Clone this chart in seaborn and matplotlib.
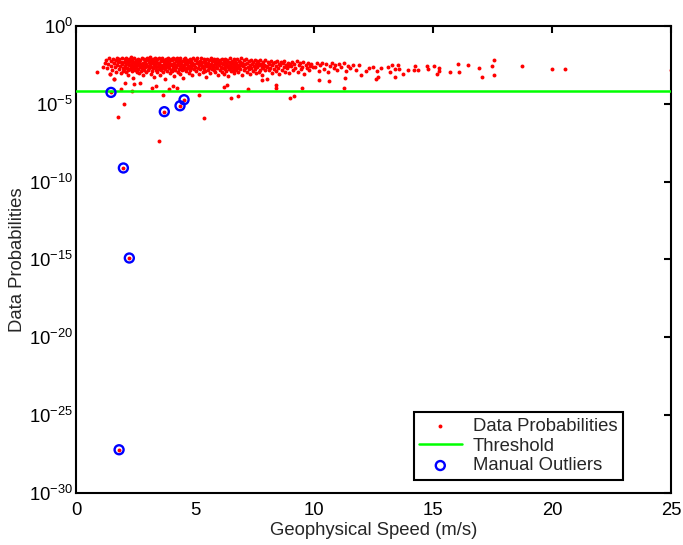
import numpy as np
import matplotlib
matplotlib.use("Agg")
import matplotlib.pyplot as plt
import seaborn as sns
from matplotlib.ticker import NullLocator

# =====================================================
# DATA  (speed in m/s, depth = -log10(probability))
# =====================================================

band_speed = [
    0.90, 1.15, 1.22, 1.28, 1.31, 1.36, 1.40, 1.43, 1.45, 1.49,
    1.52, 1.55, 1.58, 1.61, 1.63, 1.66, 1.69, 1.71, 1.74, 1.77,
    1.79, 1.82, 1.85, 1.87, 1.90, 1.92, 1.95, 1.97, 1.99, 1.60,
    2.01, 2.03, 2.05, 2.06, 2.08, 2.10, 2.12, 2.13, 2.15, 2.17,
    2.19, 2.20, 2.22, 2.24, 2.26, 2.27, 2.29, 2.31, 2.33, 2.34,
    2.36, 2.38, 2.40, 2.41, 2.43, 2.45, 2.47, 2.48, 2.50, 2.52,
    2.54, 2.55, 2.57, 2.59, 2.61, 2.62, 2.64, 2.66, 2.68, 2.69,
    2.71, 2.73, 2.75, 2.76, 2.78, 2.80, 2.82, 2.83, 2.85, 2.87,
    2.89, 2.90, 2.92, 2.94, 2.96, 2.97, 2.99, 2.34, 2.43, 2.68,
    3.01, 3.03, 3.04, 3.06, 3.08, 3.10, 3.11, 3.13, 3.15, 3.17,
    3.18, 3.20, 3.22, 3.24, 3.25, 3.27, 3.29, 3.31, 3.33, 3.34,
    3.36, 3.38, 3.40, 3.41, 3.43, 3.45, 3.47, 3.48, 3.50, 3.52,
    3.54, 3.56, 3.57, 3.59, 3.61, 3.63, 3.64, 3.66, 3.68, 3.70,
    3.71, 3.73, 3.75, 3.77, 3.78, 3.80, 3.82, 3.84, 3.86, 3.87,
    3.89, 3.91, 3.93, 3.94, 3.96, 3.98, 3.99, 3.22, 3.55, 3.81,
    4.01, 4.02, 4.04, 4.06, 4.08, 4.09, 4.11, 4.13, 4.15, 4.16,
    4.18, 4.20, 4.22, 4.24, 4.25, 4.27, 4.29, 4.31, 4.32, 4.34,
    4.36, 4.38, 4.39, 4.41, 4.43, 4.45, 4.47, 4.48, 4.50, 4.52,
    4.54, 4.55, 4.57, 4.59, 4.61, 4.62, 4.64, 4.66, 4.68, 4.70,
    4.71, 4.73, 4.75, 4.77, 4.78, 4.80, 4.82, 4.84, 4.85, 4.87,
    4.89, 4.91, 4.93, 4.94, 4.96, 4.98, 4.99, 4.28, 4.57, 4.83,
    5.02, 5.04, 5.06, 5.08, 5.10, 5.12, 5.14, 5.16, 5.18, 5.20,
    5.22, 5.24, 5.26, 5.28, 5.30, 5.32, 5.34, 5.36, 5.38, 5.40,
    5.42, 5.44, 5.46, 5.48, 5.50, 5.52, 5.54, 5.56, 5.58, 5.60,
    5.62, 5.64, 5.66, 5.68, 5.70, 5.72, 5.74, 5.76, 5.78, 5.80,
    5.82, 5.84, 5.86, 5.88, 5.90, 5.92, 5.94, 5.96, 5.98, 5.51,
    6.02, 6.04, 6.06, 6.08, 6.10, 6.12, 6.14, 6.16, 6.18, 6.20,
    6.22, 6.24, 6.26, 6.28, 6.30, 6.32, 6.34, 6.36, 6.38, 6.40,
    6.42, 6.44, 6.46, 6.48, 6.50, 6.52, 6.54, 6.56, 6.58, 6.60,
    6.62, 6.64, 6.66, 6.68, 6.70, 6.72, 6.74, 6.76, 6.78, 6.80,
    6.82, 6.84, 6.86, 6.88, 6.90, 6.92, 6.94, 6.96, 6.98, 6.45,
    7.02, 7.05, 7.07, 7.10, 7.12, 7.15, 7.17, 7.20, 7.22, 7.25,
    7.27, 7.30, 7.32, 7.35, 7.37, 7.40, 7.42, 7.45, 7.47, 7.50,
    7.52, 7.55, 7.57, 7.60, 7.62, 7.65, 7.67, 7.70, 7.72, 7.75,
    7.77, 7.80, 7.82, 7.85, 7.87, 7.90, 7.92, 7.95, 7.97, 7.63,
    8.02, 8.05, 8.09, 8.12, 8.15, 8.19, 8.22, 8.25, 8.29, 8.32,
    8.35, 8.39, 8.42, 8.45, 8.49, 8.52, 8.55, 8.59, 8.62, 8.65,
    8.69, 8.72, 8.75, 8.79, 8.82, 8.85, 8.89, 8.92, 8.95, 8.99,
    9.03, 9.08, 9.12, 9.17, 9.22, 9.27, 9.31, 9.36, 9.41, 9.46,
    9.51, 9.55, 9.60, 9.65, 9.70, 9.74, 9.79, 9.84, 9.89, 9.95,
    10.04, 10.12, 10.19, 10.27, 10.35, 10.43, 10.50, 10.58, 10.66, 10.74,
    10.82, 10.90, 10.98, 11.07, 11.15, 11.24, 11.33, 11.42, 11.52, 11.63,
]

band_depth = [
    2.95, 2.61, 2.35, 2.18, 2.72, 2.44, 2.09, 3.10, 2.55, 2.27,
    2.83, 2.12, 2.40, 3.44, 2.66, 2.21, 2.95, 2.50, 2.05, 2.33,
    2.78, 2.15, 2.60, 3.02, 2.29, 2.47, 2.08, 2.70, 2.88, 2.38,
    2.31, 2.74, 2.12, 2.58, 2.96, 2.05, 2.43, 2.67, 2.22, 2.85,
    3.12, 2.37, 2.51, 2.14, 2.79, 2.28, 2.63, 2.01, 2.46, 2.90,
    2.19, 2.55, 3.35, 2.33, 2.70, 2.09, 2.48, 2.82, 2.25, 2.61,
    2.16, 2.99, 2.40, 2.76, 2.11, 2.53, 3.05, 2.29, 2.66, 2.20,
    2.88, 2.44, 2.57, 2.03, 2.72, 2.35, 3.18, 2.50, 2.13, 2.81,
    2.27, 2.64, 2.42, 2.93, 2.18, 2.59, 2.07, 2.75, 2.38, 2.47,
    2.56, 2.10, 2.83, 2.34, 2.68, 2.02, 2.47, 3.09, 2.21, 2.62,
    2.39, 2.91, 2.15, 2.73, 2.30, 2.54, 3.28, 2.06, 2.45, 2.80,
    2.24, 2.66, 2.13, 2.98, 2.41, 2.58, 2.08, 2.77, 2.36, 3.15,
    2.52, 2.19, 2.86, 2.28, 2.69, 2.04, 2.49, 2.94, 2.32, 2.60,
    2.17, 2.75, 3.40, 2.43, 2.11, 2.64, 2.26, 2.89, 2.55, 2.07,
    2.71, 2.38, 3.02, 2.20, 2.50, 2.84, 2.14, 2.33, 2.61, 2.46,
    2.44, 2.87, 2.16, 2.59, 2.03, 2.72, 2.35, 3.21, 2.48, 2.12,
    2.81, 2.27, 2.65, 2.06, 2.53, 2.94, 2.39, 2.18, 2.76, 2.31,
    3.08, 2.57, 2.09, 2.69, 2.42, 2.85, 2.23, 2.62, 3.33, 2.14,
    2.50, 2.78, 2.37, 2.05, 2.67, 2.29, 2.92, 2.45, 2.19, 2.73,
    2.55, 3.00, 2.32, 2.60, 2.10, 2.83, 2.40, 2.25, 2.70, 3.14,
    2.36, 2.52, 2.08, 2.79, 2.47, 2.20, 2.64, 2.96, 2.34, 2.57,
    2.63, 2.17, 2.88, 2.40, 2.09, 2.71, 2.33, 3.11, 2.52, 2.22,
    2.79, 2.45, 2.04, 2.66, 2.30, 2.97, 2.56, 2.13, 2.74, 2.38,
    2.90, 2.26, 2.60, 3.25, 2.11, 2.49, 2.82, 2.35, 2.68, 2.19,
    2.58, 3.04, 2.42, 2.07, 2.77, 2.28, 2.65, 2.50, 2.15, 2.86,
    2.37, 2.99, 2.24, 2.62, 2.46, 2.10, 2.73, 3.18, 2.32, 2.55,
    2.48, 2.83, 2.20, 2.61, 2.36, 2.95, 2.14, 2.70, 2.43, 3.07,
    2.27, 2.58, 2.10, 2.77, 2.39, 2.88, 2.53, 2.18, 2.66, 3.20,
    2.31, 2.74, 2.05, 2.51, 2.92, 2.35, 2.64, 2.23, 2.81, 2.46,
    3.01, 2.15, 2.57, 2.72, 2.29, 2.86, 2.41, 2.12, 2.68, 2.54,
    2.97, 2.25, 2.60, 2.33, 2.79, 2.08, 2.49, 3.12, 2.38, 2.67,
    2.55, 2.21, 2.84, 2.42, 2.69, 2.13, 2.97, 2.36, 2.62, 2.28,
    2.78, 2.50, 3.09, 2.19, 2.71, 2.44, 2.88, 2.32, 2.59, 2.16,
    2.75, 2.47, 3.03, 2.25, 2.66, 2.39, 2.93, 2.53, 2.20, 2.81,
    2.43, 2.64, 3.16, 2.30, 2.72, 2.49, 2.18, 2.86, 2.57, 2.37,
    2.61, 2.29, 2.85, 2.47, 2.70, 2.22, 3.01, 2.54, 2.38, 2.77,
    2.33, 2.91, 2.58, 2.26, 2.68, 2.44, 3.10, 2.52, 2.31, 2.80,
    2.40, 2.66, 2.24, 2.95, 2.49, 2.73, 2.35, 2.59, 3.05, 2.45,
    2.57, 2.34, 2.82, 2.46, 2.69, 2.28, 2.93, 2.52, 2.39, 2.75,
    2.61, 2.31, 3.08, 2.49, 2.72, 2.37, 2.84, 2.55, 2.43, 2.66,
    2.64, 2.41, 2.88, 2.53, 2.35, 2.76, 2.47, 2.99, 2.58, 2.39,
    2.70, 2.50, 2.83, 2.44, 2.62, 2.37, 2.91, 2.55, 2.73, 2.48,
]

tail_speed = [
    11.76, 11.87, 11.97, 12.20, 12.33, 12.47, 12.64, 12.83, 13.11,
    13.26, 13.52, 13.41, 13.58, 13.20, 13.40, 13.76, 13.94, 14.21, 14.26,
    14.39, 14.74, 14.78, 15.06, 15.27, 15.24, 15.15, 15.72, 16.06, 16.11,
    16.45, 16.95, 17.07, 17.56, 17.49, 17.57, 18.75, 20.02, 20.54, 25.0,
]
tail_depth = [
    2.84, 2.50, 3.16, 2.90, 2.71, 2.63, 2.87, 2.69, 2.65,
    2.52, 2.50, 2.74, 2.78, 2.99, 3.25, 3.06, 2.84, 2.82, 2.58,
    2.82, 2.58, 2.78, 2.58, 2.71, 2.90, 3.08, 2.93, 2.44, 2.99,
    2.50, 2.69, 3.31, 2.20, 2.58, 3.14, 2.56, 2.74, 2.74, 2.82,
]

low_speed = [
    1.43, 1.61, 2.05, 2.43, 2.68, 1.88, 2.34, 3.19, 3.35, 3.67,
    3.90, 4.06, 4.26, 5.17, 6.22, 6.36, 6.53, 6.81, 7.23, 7.82,
    8.04, 8.39, 8.41, 9.00, 9.18, 9.50, 10.21, 10.62, 11.25, 11.29,
    12.61, 12.68, 2.02, 1.75, 5.37, 3.50,
]
low_depth = [
    3.10, 3.44, 3.67, 3.74, 3.67, 4.08, 4.15, 3.99, 3.87, 4.44,
    4.06, 3.89, 3.97, 4.44, 3.91, 3.80, 4.64, 4.49, 4.08, 3.48,
    3.40, 3.78, 3.97, 4.62, 4.47, 3.99, 3.48, 3.55, 3.99, 3.35,
    3.38, 3.25, 5.04, 5.88, 5.90, 7.39,
]

outlier_speed = [1.47, 1.99, 2.24, 1.81, 3.71, 4.37, 4.54]
outlier_depth = [4.27, 9.13, 14.92, 27.25, 5.51, 5.13, 4.74]

threshold = 6.3e-5

x_ticks = [0, 5, 10, 15, 20, 25]
y_ticks = [1e0, 1e-5, 1e-10, 1e-15, 1e-20, 1e-25, 1e-30]

# =====================================================
# PREP
# =====================================================

speed = np.array(band_speed + tail_speed + low_speed + outlier_speed)
prob = 10.0 ** -np.array(band_depth + tail_depth + low_depth + outlier_depth)

out_x = np.array(outlier_speed)
out_p = 10.0 ** -np.array(outlier_depth)

# =====================================================
# PLOT
# =====================================================

fs = 13.3

sns.set_style("white")
plt.rcParams["font.family"] = ["Liberation Sans", "DejaVu Sans"]
plt.rcParams["font.size"] = fs
plt.rcParams["axes.linewidth"] = 1.5

fig = plt.figure(figsize=(6.83, 5.45), dpi=100)
ax = fig.add_axes([0.1113, 0.0963, 0.8711, 0.856])

sns.scatterplot(
    x=speed, y=prob, color="red", s=8, linewidth=0,
    ax=ax, zorder=2, label="Data Probabilities"
)

ax.axhline(threshold, color="#00ff00", linewidth=1.8, zorder=3,
           label="Threshold")

sns.scatterplot(
    x=out_x, y=out_p, marker="o", s=42, color="blue",
    facecolor="none", edgecolor="blue", linewidth=1.7,
    ax=ax, zorder=4, label="Manual Outliers"
)

ax.set_yscale("log")
ax.set_xlim(0, 25)
ax.set_ylim(1e-30, 1e0)
ax.set_xticks(x_ticks)
ax.set_yticks(y_ticks)
ax.yaxis.set_minor_locator(NullLocator())
ax.xaxis.set_minor_locator(NullLocator())

ax.tick_params(direction="in", length=5, width=1.5, top=True, right=True,
               labelsize=fs, colors="black")
ax.tick_params(axis="x", pad=7)
ax.tick_params(axis="y", pad=2)
for sp in ax.spines.values():
    sp.set_visible(True)
    sp.set_color("black")
    sp.set_linewidth(1.5)

ax.set_xlabel("Geophysical Speed (m/s)", fontsize=fs, labelpad=2)
ax.set_ylabel("Data Probabilities", fontsize=fs, labelpad=2)

handles, labels = ax.get_legend_handles_labels()
order = [labels.index(n) for n in
         ["Data Probabilities", "Threshold", "Manual Outliers"]]
leg = ax.legend(
    [handles[i] for i in order], [labels[i] for i in order],
    loc="lower right", bbox_to_anchor=(0.919, 0.027), borderaxespad=0,
    frameon=True, fancybox=False, framealpha=1, edgecolor="black",
    fontsize=fs, handlelength=2.3, handletextpad=0.6,
    borderpad=0.3, labelspacing=0.15,
)
leg.get_frame().set_linewidth(1.5)

fig.savefig("out.png", dpi=100)
